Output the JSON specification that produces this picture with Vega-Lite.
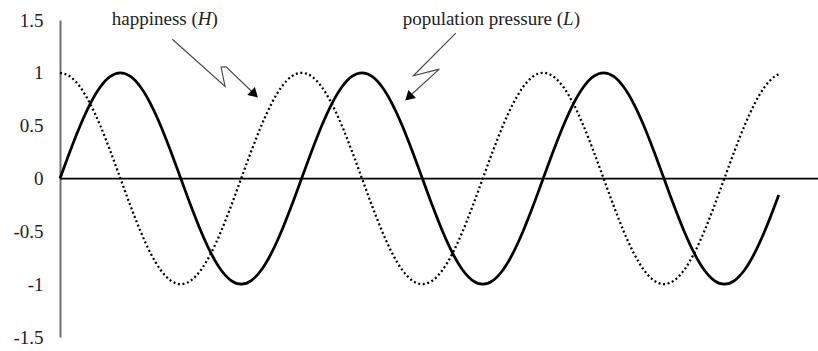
{
  "$schema": "https://vega.github.io/schema/vega-lite/v6.json",
  "width": 758,
  "height": 317,
  "autosize": {"type": "none"},
  "padding": {"left": 60, "top": 20, "right": 0, "bottom": 14},
  "config": {
    "view": {"stroke": null},
    "font": "Liberation Serif",
    "axisX": {"disable": true},
    "axisY": {
      "grid": false, "ticks": false, "labelPadding": 17,
      "domainColor": "#707070", "domainWidth": 2,
      "labelFont": "Liberation Serif", "labelFontSize": 19, "labelColor": "#222",
      "labelExpr": "datum.value < 0 ? '-' + format(-datum.value, '') : format(datum.value, '')"
    }
  },
  "datasets": {
    "waves": [
      {"x": 0, "L": 0, "H": 1}, {"x": 0.5, "L": 0.2588, "H": 0.9659}, {"x": 1, "L": 0.5, "H": 0.866}, {"x": 1.5, "L": 0.7071, "H": 0.7071},
      {"x": 2, "L": 0.866, "H": 0.5}, {"x": 2.5, "L": 0.9659, "H": 0.2588}, {"x": 3, "L": 1, "H": 0}, {"x": 3.5, "L": 0.9659, "H": -0.2588},
      {"x": 4, "L": 0.866, "H": -0.5}, {"x": 4.5, "L": 0.7071, "H": -0.7071}, {"x": 5, "L": 0.5, "H": -0.866}, {"x": 5.5, "L": 0.2588, "H": -0.9659},
      {"x": 6, "L": 0, "H": -1}, {"x": 6.5, "L": -0.2588, "H": -0.9659}, {"x": 7, "L": -0.5, "H": -0.866}, {"x": 7.5, "L": -0.7071, "H": -0.7071},
      {"x": 8, "L": -0.866, "H": -0.5}, {"x": 8.5, "L": -0.9659, "H": -0.2588}, {"x": 9, "L": -1, "H": 0}, {"x": 9.5, "L": -0.9659, "H": 0.2588},
      {"x": 10, "L": -0.866, "H": 0.5}, {"x": 10.5, "L": -0.7071, "H": 0.7071}, {"x": 11, "L": -0.5, "H": 0.866}, {"x": 11.5, "L": -0.2588, "H": 0.9659},
      {"x": 12, "L": 0, "H": 1}, {"x": 12.5, "L": 0.2588, "H": 0.9659}, {"x": 13, "L": 0.5, "H": 0.866}, {"x": 13.5, "L": 0.7071, "H": 0.7071},
      {"x": 14, "L": 0.866, "H": 0.5}, {"x": 14.5, "L": 0.9659, "H": 0.2588}, {"x": 15, "L": 1, "H": 0}, {"x": 15.5, "L": 0.9659, "H": -0.2588},
      {"x": 16, "L": 0.866, "H": -0.5}, {"x": 16.5, "L": 0.7071, "H": -0.7071}, {"x": 17, "L": 0.5, "H": -0.866}, {"x": 17.5, "L": 0.2588, "H": -0.9659},
      {"x": 18, "L": 0, "H": -1}, {"x": 18.5, "L": -0.2588, "H": -0.9659}, {"x": 19, "L": -0.5, "H": -0.866}, {"x": 19.5, "L": -0.7071, "H": -0.7071},
      {"x": 20, "L": -0.866, "H": -0.5}, {"x": 20.5, "L": -0.9659, "H": -0.2588}, {"x": 21, "L": -1, "H": 0}, {"x": 21.5, "L": -0.9659, "H": 0.2588},
      {"x": 22, "L": -0.866, "H": 0.5}, {"x": 22.5, "L": -0.7071, "H": 0.7071}, {"x": 23, "L": -0.5, "H": 0.866}, {"x": 23.5, "L": -0.2588, "H": 0.9659},
      {"x": 24, "L": 0, "H": 1}, {"x": 24.5, "L": 0.2588, "H": 0.9659}, {"x": 25, "L": 0.5, "H": 0.866}, {"x": 25.5, "L": 0.7071, "H": 0.7071},
      {"x": 26, "L": 0.866, "H": 0.5}, {"x": 26.5, "L": 0.9659, "H": 0.2588}, {"x": 27, "L": 1, "H": 0}, {"x": 27.5, "L": 0.9659, "H": -0.2588},
      {"x": 28, "L": 0.866, "H": -0.5}, {"x": 28.5, "L": 0.7071, "H": -0.7071}, {"x": 29, "L": 0.5, "H": -0.866}, {"x": 29.5, "L": 0.2588, "H": -0.9659},
      {"x": 30, "L": 0, "H": -1}, {"x": 30.5, "L": -0.2588, "H": -0.9659}, {"x": 31, "L": -0.5, "H": -0.866}, {"x": 31.5, "L": -0.7071, "H": -0.7071},
      {"x": 32, "L": -0.866, "H": -0.5}, {"x": 32.5, "L": -0.9659, "H": -0.2588}, {"x": 33, "L": -1, "H": 0}, {"x": 33.5, "L": -0.9659, "H": 0.2588},
      {"x": 34, "L": -0.866, "H": 0.5}, {"x": 34.5, "L": -0.7071, "H": 0.7071}, {"x": 35, "L": -0.5, "H": 0.866}, {"x": 35.5, "L": -0.2588, "H": 0.9659},
      {"x": 35.7, "L": -0.156, "H": 0.988}
    ],
    "zero": [{"y": 0}],
    "arrows": [
      {"arrow": "H", "ord": 0, "x": 5.58, "y": 1.318},
      {"arrow": "H", "ord": 1, "x": 8.2, "y": 0.871},
      {"arrow": "H", "ord": 2, "x": 8.0, "y": 1.054},
      {"arrow": "H", "ord": 3, "x": 8.25, "y": 1.057},
      {"arrow": "H", "ord": 4, "x": 9.54, "y": 0.821},
      {"arrow": "L", "ord": 0, "x": 19.66, "y": 1.375},
      {"arrow": "L", "ord": 1, "x": 17.55, "y": 0.972},
      {"arrow": "L", "ord": 2, "x": 18.84, "y": 1.035},
      {"arrow": "L", "ord": 3, "x": 17.39, "y": 0.783}
    ],
    "heads": [
      {"arrow": "H", "x": 9.66, "y": 0.797, "angle": 44},
      {"arrow": "L", "x": 17.32, "y": 0.768, "angle": 137}
    ],
    "labels": [
      {"t": "happiness (", "style": "normal", "x": 2.57, "y": 1.453},
      {"t": "H", "style": "italic", "x": 6.84, "y": 1.453},
      {"t": ")", "style": "normal", "x": 7.52, "y": 1.453},
      {"t": "population pressure (", "style": "normal", "x": 17.02, "y": 1.453},
      {"t": "L", "style": "italic", "x": 24.99, "y": 1.453},
      {"t": ")", "style": "normal", "x": 25.52, "y": 1.453}
    ]
  },
  "layer": [
    {
      "data": {"name": "zero"},
      "mark": {"type": "rule", "color": "black", "strokeWidth": 1.75},
      "encoding": {
        "y": {"field": "y", "type": "quantitative", "scale": {"domain": [-1.5, 1.5], "nice": false}, "title": null}
      }
    },
    {
      "data": {"name": "waves"},
      "mark": {"type": "line", "color": "black", "strokeWidth": 2.25, "strokeDash": [2, 2.6], "interpolate": "monotone"},
      "encoding": {
        "x": {"field": "x", "type": "quantitative", "scale": {"domain": [0, 37.65], "nice": false, "zero": false}, "axis": null},
        "y": {"field": "H", "type": "quantitative", "scale": {"domain": [-1.5, 1.5], "nice": false}, "title": null}
      }
    },
    {
      "data": {"name": "waves"},
      "mark": {"type": "line", "color": "black", "strokeWidth": 2.75, "interpolate": "monotone"},
      "encoding": {
        "x": {"field": "x", "type": "quantitative", "scale": {"domain": [0, 37.65], "nice": false, "zero": false}, "axis": null},
        "y": {"field": "L", "type": "quantitative", "scale": {"domain": [-1.5, 1.5], "nice": false}, "title": null}
      }
    },
    {
      "data": {"name": "arrows"},
      "mark": {"type": "line", "color": "#444", "strokeWidth": 1.1},
      "encoding": {
        "x": {"field": "x", "type": "quantitative", "scale": {"domain": [0, 37.65], "nice": false, "zero": false}, "axis": null},
        "y": {"field": "y", "type": "quantitative", "scale": {"domain": [-1.5, 1.5], "nice": false}, "title": null},
        "detail": {"field": "arrow"},
        "order": {"field": "ord", "type": "quantitative"}
      }
    },
    {
      "data": {"name": "heads"},
      "mark": {"type": "point", "shape": "triangle-right", "filled": true, "color": "black", "opacity": 1, "size": 120},
      "encoding": {
        "x": {"field": "x", "type": "quantitative", "scale": {"domain": [0, 37.65], "nice": false, "zero": false}, "axis": null},
        "y": {"field": "y", "type": "quantitative", "scale": {"domain": [-1.5, 1.5], "nice": false}, "title": null},
        "angle": {"field": "angle", "type": "quantitative", "scale": null}
      }
    },
    {
      "data": {"name": "labels"},
      "transform": [{"filter": "datum.style == 'normal'"}],
      "mark": {"type": "text", "align": "left", "baseline": "alphabetic", "font": "Liberation Serif", "fontSize": 19, "color": "#222"},
      "encoding": {
        "x": {"field": "x", "type": "quantitative", "scale": {"domain": [0, 37.65], "nice": false, "zero": false}, "axis": null},
        "y": {"field": "y", "type": "quantitative", "scale": {"domain": [-1.5, 1.5], "nice": false}, "title": null},
        "text": {"field": "t"}
      }
    },
    {
      "data": {"name": "labels"},
      "transform": [{"filter": "datum.style == 'italic'"}],
      "mark": {"type": "text", "align": "left", "baseline": "alphabetic", "font": "Liberation Serif", "fontStyle": "italic", "fontSize": 19, "color": "#222"},
      "encoding": {
        "x": {"field": "x", "type": "quantitative", "scale": {"domain": [0, 37.65], "nice": false, "zero": false}, "axis": null},
        "y": {"field": "y", "type": "quantitative", "scale": {"domain": [-1.5, 1.5], "nice": false}, "title": null},
        "text": {"field": "t"}
      }
    }
  ]
}
